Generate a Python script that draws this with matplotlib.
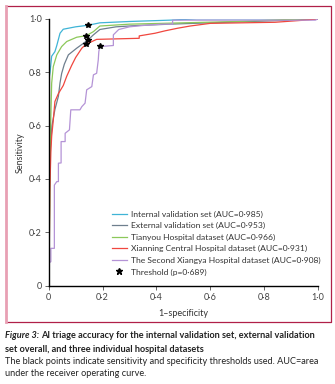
import matplotlib
matplotlib.use("Agg")
import matplotlib.pyplot as plt
from matplotlib.lines import Line2D

plt.rcParams["font.family"] = ["Lato", "DejaVu Sans"]

# ROC curves (1-specificity, sensitivity)
internal_x = [0, 0, 0.005, 0.011, 0.023, 0.03, 0.042, 0.054, 0.1, 0.147, 0.19, 0.3, 0.45, 0.55, 1]
internal_y = [0, 0.77, 0.8, 0.86, 0.877, 0.9, 0.946, 0.961, 0.97, 0.976, 0.985, 0.99, 0.995, 1.0, 1]

external_x = [0, 0.003, 0.005, 0.012, 0.023, 0.036, 0.042, 0.048, 0.058, 0.073, 0.104, 0.145,
              0.166, 0.19, 0.25, 0.33, 0.45, 0.6, 0.75, 0.9, 1]
external_y = [0, 0.3, 0.5, 0.6, 0.66, 0.71, 0.76, 0.795, 0.83, 0.865, 0.89, 0.92,
              0.94, 0.96, 0.97, 0.975, 0.98, 0.985, 0.99, 0.995, 1]

tianyou_x = [0, 0.004, 0.006, 0.011, 0.017, 0.03, 0.048, 0.067, 0.104, 0.14, 0.166, 0.19,
             0.3, 0.5, 0.7, 0.95, 1]
tianyou_y = [0, 0.3, 0.55, 0.759, 0.821, 0.865, 0.896, 0.915, 0.931, 0.937, 0.952, 0.973,
             0.98, 0.985, 0.99, 1.0, 1]

xianning_x = [0, 0.002, 0.004, 0.008, 0.011, 0.017, 0.023, 0.036, 0.054, 0.067, 0.085, 0.1,
              0.123, 0.139, 0.178, 0.336, 0.336, 0.395, 0.432, 0.48, 0.525, 0.6, 0.84,
              0.963, 1]
xianning_y = [0, 0.1, 0.35, 0.5, 0.56, 0.62, 0.69, 0.72, 0.75, 0.785, 0.825, 0.855,
              0.89, 0.905, 0.923, 0.927, 0.936, 0.946, 0.955, 0.965, 0.973, 0.983, 0.987,
              0.996, 1]

xiangya_x = [0, 0, 0.008, 0.008, 0.021, 0.021, 0.03, 0.036, 0.036, 0.046, 0.046, 0.061,
             0.061, 0.077, 0.082, 0.116, 0.123, 0.135, 0.141, 0.16, 0.166, 0.178, 0.181,
             0.184, 0.186, 0.19, 0.24, 0.24, 0.26, 0.3, 0.35, 0.42, 0.46, 0.46, 0.99, 1]
xiangya_y = [0, 0.085, 0.09, 0.14, 0.14, 0.377, 0.39, 0.39, 0.459, 0.46, 0.54, 0.54,
             0.571, 0.584, 0.659, 0.659, 0.671, 0.684, 0.734, 0.746, 0.79, 0.796, 0.821,
             0.846, 0.877, 0.896, 0.9, 0.94, 0.96, 0.97, 0.975, 0.98, 0.98, 0.995, 0.995, 1]

# threshold points (p=0.689)
thr_x = [0.147, 0.145, 0.14, 0.139, 0.192]
thr_y = [0.976, 0.92, 0.937, 0.905, 0.897]

labels = [
    "Internal validation set (AUC=0·985)",
    "External validation set (AUC=0·953)",
    "Tianyou Hospital dataset (AUC=0·966)",
    "Xianning Central Hospital dataset (AUC=0·931)",
    "The Second Xiangya Hospital dataset (AUC=0·908)",
]
colors = ["#3fb4d6", "#6e7f8e", "#8cc85a", "#f0473f", "#b493d6"]
ticks = [0, 0.2, 0.4, 0.6, 0.8, 1.0]
tick_labels = ["0", "0·2", "0·4", "0·6", "0·8", "1·0"]

fig = plt.figure(figsize=(3.35, 3.84), dpi=100)
ax = fig.add_axes([0.1454, 0.256, 0.804, 0.695])

curves = [(internal_x, internal_y), (external_x, external_y), (tianyou_x, tianyou_y),
          (xianning_x, xianning_y), (xiangya_x, xiangya_y)]
for (cx, cy), c, lab in zip(curves, colors, labels):
    ax.plot(cx, cy, color=c, lw=0.9, label=lab)
ax.plot(thr_x, thr_y, ls="none", marker="*", ms=4, color="black", zorder=5)

ax.set_xlim(0, 1)
ax.set_ylim(0, 1)
ax.set_xticks(ticks)
ax.set_xticklabels(tick_labels)
ax.set_yticks(ticks)
ax.set_yticklabels(tick_labels)
ax.spines["top"].set_visible(False)
ax.spines["right"].set_visible(False)
for s in ["left", "bottom"]:
    ax.spines[s].set_linewidth(1.0)
ax.tick_params(length=3, width=0.7, color="#666666", labelsize=6.5, labelcolor="#444444", pad=2)
ax.set_xlabel("1–specificity", fontsize=6.5, color="#333333", labelpad=5)
ax.set_ylabel("Sensitivity", fontsize=6.5, color="#333333", labelpad=3)

handles = [Line2D([], [], color=c, lw=0.9) for c in colors]
handles.append(Line2D([], [], ls="none", marker="*", ms=5, color="black"))
ax.legend(handles, labels + ["Threshold (p=0·689)"], loc="lower left",
          bbox_to_anchor=(0.235, 0.038), frameon=False, fontsize=6.1,
          handlelength=1.75, handletextpad=0.45, labelspacing=0.52, borderpad=0,
          borderaxespad=0, labelcolor="#333333")

# frame around the figure panel
W, H = 335, 384
x0, x1 = 6 / W, 331 / W
y0, y1 = 1 - 322 / H, 1 - 5.5 / H
fig.add_artist(Line2D([x0, x1, x1, x0], [y1, y1, y0, y0], color="#b02048", lw=0.9,
                      transform=fig.transFigure))
fig.add_artist(Line2D([x0, x0], [y0, y1], color="#e8a0b4", lw=2,
                      transform=fig.transFigure))

# caption
cap_x = 5 / W
cap_size = 6.55
t1 = fig.text(cap_x, 1 - 336 / H, "Figure 3:", fontsize=cap_size, fontweight="bold",
              fontstyle="italic", va="center", color="#222222")
fig.canvas.draw()
bb = t1.get_window_extent().transformed(fig.transFigure.inverted())
fig.text(bb.x1 + 1.5 / W, 1 - 336 / H,
         "AI triage accuracy for the internal validation set, external validation",
         fontsize=cap_size, fontweight="bold", va="center", color="#222222")
fig.text(cap_x, 1 - 350 / H, "set overall, and three individual hospital datasets",
         fontsize=cap_size, fontweight="bold", va="center", color="#222222")
fig.text(cap_x, 1 - 362 / H,
         "The black points indicate sensitivity and specificity thresholds used. AUC=area",
         fontsize=cap_size, va="center", color="#222222")
fig.text(cap_x, 1 - 374 / H, "under the receiver operating curve.",
         fontsize=cap_size, va="center", color="#222222")

fig.savefig("out.png", dpi=100)
